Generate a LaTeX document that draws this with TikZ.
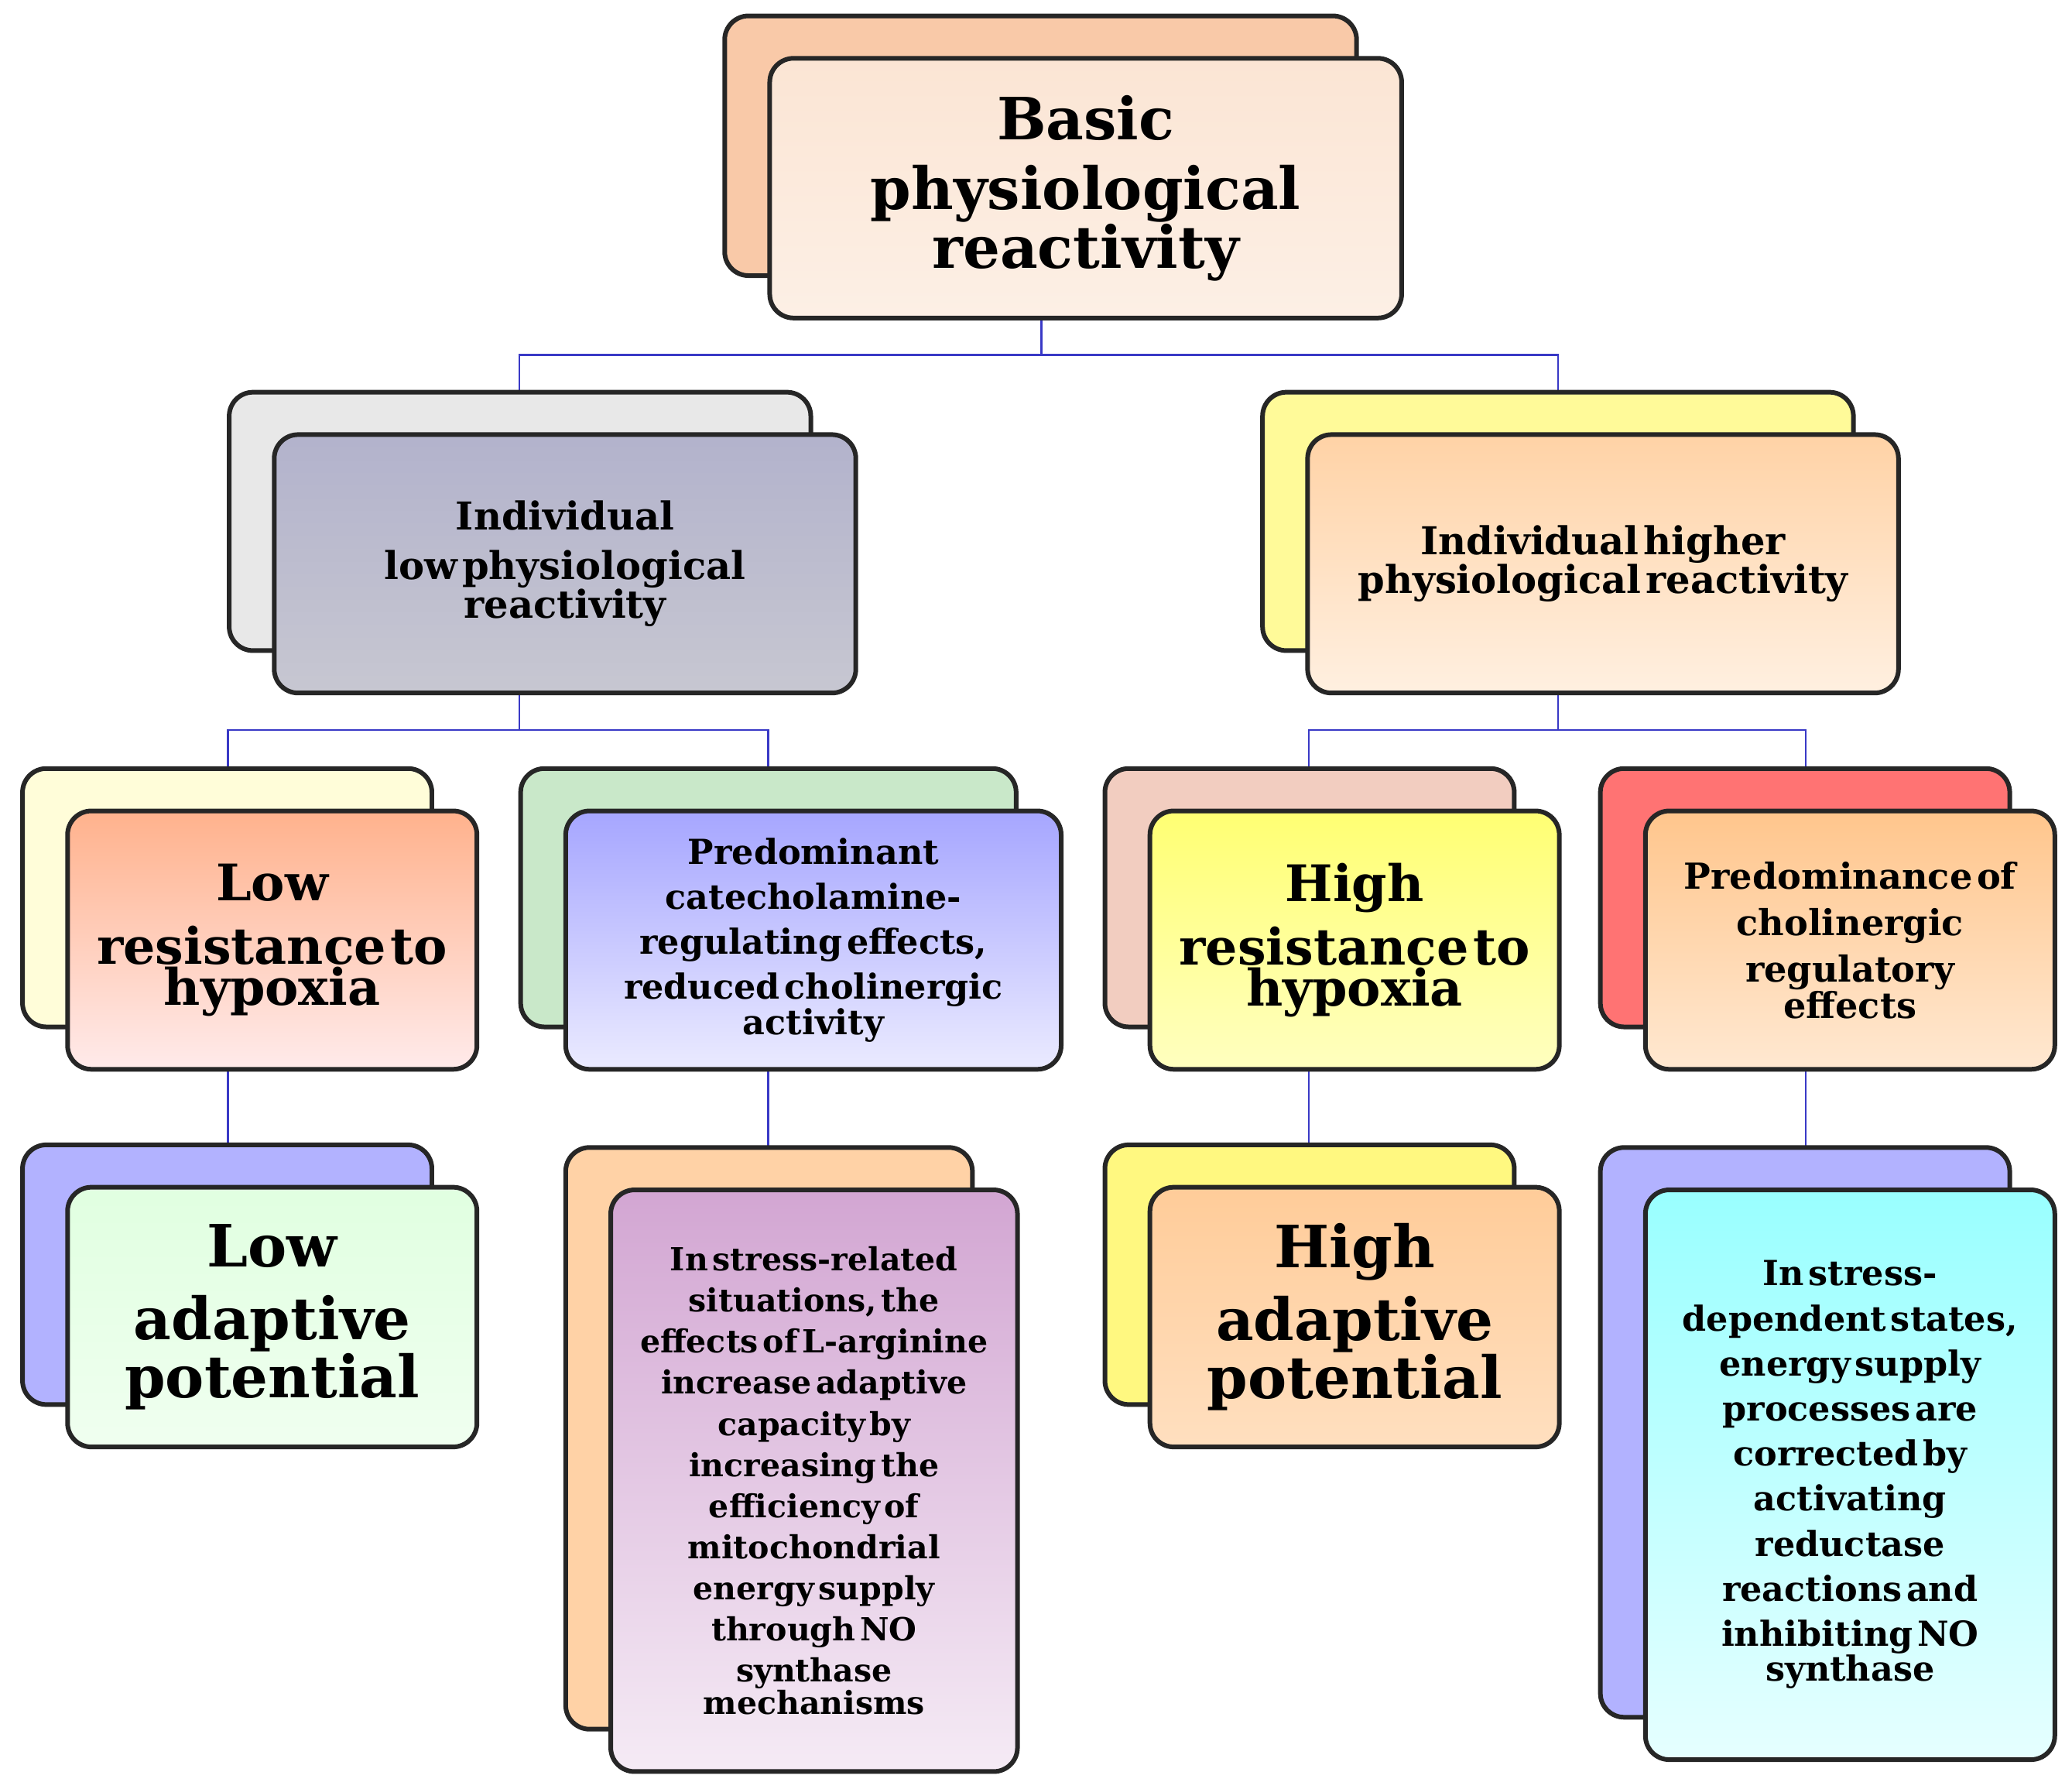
\documentclass[tikz,border=0pt]{standalone}
\usepackage{fontspec}
\setmainfont{DejaVu Serif}
\begin{document}
\begin{tikzpicture}[x=1pt,y=-1pt,
  bx/.style={draw=black!85,line width=3.5pt,rounded corners=18pt,inner sep=0pt,align=center,font=\bfseries},
  con/.style={draw=blue!55!gray,line width=1.6pt}]
\useasboundingbox (0,0) rectangle (1564,1350);
\newcommand\fs[2]{\fontsize{#1}{#2}\selectfont}
% #1 name #2 cx #3 cy #4 w #5 h #6 back #7 top #8 bottom #9 text
\newcommand\bx[9]{%
  \node[bx,fill=#6,minimum width=#4,minimum height=#5] (#1b) at (#2-34,#3-32) {};
  \node[bx,top color=#7,bottom color=#8,minimum width=#4,minimum height=#5,text width=\dimexpr#4pt-24pt\relax] (#1) at (#2,#3) {#9};}
\definecolor{c1}{HTML}{F9C9A8}\definecolor{c2}{HTML}{FBE5D4}
\coordinate (m1) at (786,268);
\coordinate (m2) at (392,551);
\coordinate (m3) at (1176,551);
\path (786,126) coordinate (topc) (392,409) coordinate (l2lc) (1176,409) coordinate (l2rc)
 (172,678) coordinate (aC) (580,678) coordinate (bC) (988,678) coordinate (cC) (1363,678) coordinate (dC)
 (172,962) coordinate (aD) (580,1085) coordinate (bD) (988,962) coordinate (cD) (1363,1080) coordinate (dD);
\draw[con] (topc) |- (m1) -| (l2lc);
\draw[con] (m1) -| (l2rc);
\draw[con] (l2lc) |- (m2) -| (aC);
\draw[con] (m2) -| (bC);
\draw[con] (l2rc) |- (m3) -| (cC);
\draw[con] (m3) -| (dC);
\draw[con] (aC) -- (aD); \draw[con] (bC) -- (bD); \draw[con] (cC) -- (cD); \draw[con] (dC) -- (dD);
\bx{top}{819.5}{142}{477}{196}{c1}{c2}{c2!60!white}{\fs{44}{53}Basic\\physiological\\reactivity}
\bx{l2l}{426.5}{425.5}{439}{195}{gray!18}{blue!20!gray!50}{blue!10!gray!40}{\fs{29}{37}Individual\\low physiological\\reactivity}
\bx{l2r}{1210}{425.5}{446}{195}{yellow!40}{orange!35}{orange!12}{\fs{29}{37}Individual higher\\physiological reactivity}
\bx{la}{205.5}{709.5}{309}{195}{yellow!15}{red!35!orange!45}{red!8}{\fs{38}{48}Low\\resistance to\\hypoxia}
\bx{lb}{614}{709.5}{374}{195}{green!40!gray!30}{blue!35}{blue!8}{\fs{26}{34}Predominant\\catecholamine-\\regulating effects,\\reduced cholinergic\\activity}
\bx{lc}{1022.5}{709.5}{309}{195}{red!30!brown!30}{yellow!55}{yellow!25}{\fs{38}{48}High\\resistance to\\hypoxia}
\bx{ld}{1396.5}{709.5}{309}{195}{red!55}{orange!45}{orange!18}{\fs{27}{35}Predominance of\\cholinergic\\regulatory\\effects}
\bx{pa}{205.5}{994}{309}{196}{blue!30}{green!12}{green!6}{\fs{44}{55}Low\\adaptive\\potential}
\bx{pb}{614.5}{1117.5}{307}{439}{orange!35}{violet!35}{violet!8}{\fs{24}{31}In stress-related\\situations, the\\effects of L-arginine\\increase adaptive\\capacity by\\increasing the\\efficiency of\\mitochondrial\\energy supply\\through NO\\synthase\\mechanisms}
\bx{pc}{1022.5}{994}{309}{196}{yellow!50}{orange!40}{orange!25}{\fs{44}{55}High\\adaptive\\potential}
\bx{pd}{1396.5}{1113}{309}{430}{blue!30}{cyan!40}{cyan!10}{\fs{26}{34}In stress-\\dependent states,\\energy supply\\processes are\\corrected by\\activating\\reductase\\reactions and\\inhibiting NO\\synthase}
\end{tikzpicture}
\end{document}
